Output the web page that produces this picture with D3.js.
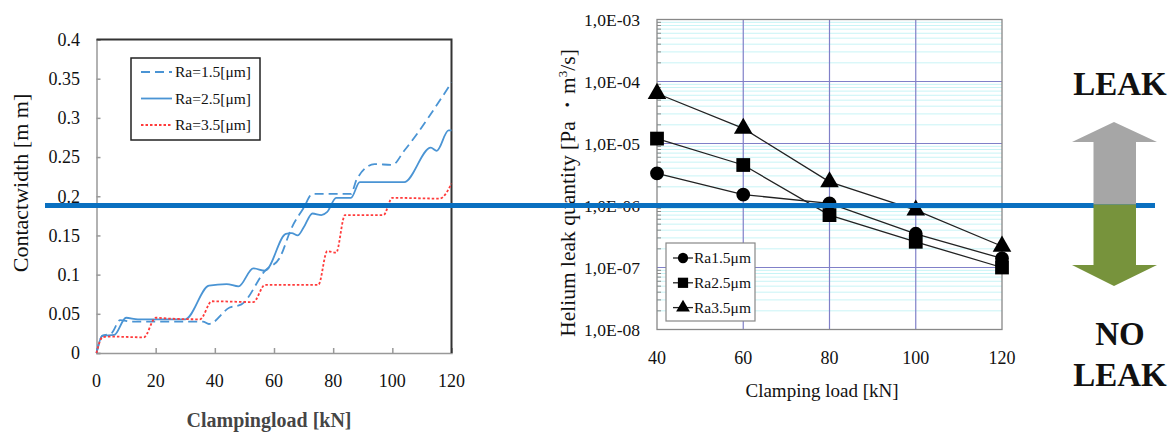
<!DOCTYPE html>
<html><head><meta charset="utf-8">
<script src="https://cdn.jsdelivr.net/npm/d3@7"></script>
<style>
body{margin:0;background:#fff}
text{font-family:"Liberation Serif","Times New Roman",serif;fill:#111}
</style>
</head><body>
<svg id="chart" width="1173" height="434"></svg>
<script>
// ---- left chart: contact width vs clamping load
const loadTicks = [0, 20, 40, 60, 80, 100, 120];
const widthTicks = [0, 0.05, 0.1, 0.15, 0.2, 0.25, 0.3, 0.35, 0.4];
const widthNames = ["Ra=1.5[μm]", "Ra=2.5[μm]", "Ra=3.5[μm]"];
const width15 = [[0,0],[2,0.022],[5,0.025],[8,0.042],[12,0.040],[36,0.040],[38,0.037],[45,0.058],[49,0.062],[57,0.105],[62,0.122],[66,0.16],[70,0.185],[73,0.203],[86,0.203],[88,0.222],[94,0.241],[100,0.240],[104,0.258],[120,0.345]];
const width25 = [[0,0],[2,0.022],[6,0.023],[10,0.045],[14,0.043],[30,0.043],[38,0.086],[44,0.088],[48,0.085],[53,0.108],[57,0.105],[64,0.152],[66,0.153],[68,0.150],[70,0.160],[73,0.178],[76,0.176],[78,0.180],[81,0.198],[86,0.198],[89,0.218],[104,0.218],[113,0.262],[115,0.258],[119,0.284],[120,0.284]];
const width35 = [[0,0],[2,0.020],[4,0.021],[16,0.020],[20,0.045],[24,0.044],[35,0.043],[39,0.066],[53,0.065],[57,0.087],[75,0.087],[78,0.130],[81,0.128],[84,0.176],[97,0.176],[100,0.198],[116,0.197],[120,0.216]];

// ---- right chart: helium leak vs clamping load
const leakLoads = [40, 60, 80, 100, 120];
const leakNames = ["Ra1.5μm", "Ra2.5μm", "Ra3.5μm"];
const leak15 = [3.3e-6, 1.5e-6, 1.08e-6, 3.5e-7, 1.4e-7];
const leak25 = [1.2e-5, 4.5e-6, 7.0e-7, 2.6e-7, 1.0e-7];
const leak35 = [6.4e-5, 1.75e-5, 2.4e-6, 8.4e-7, 2.2e-7];
const leakTicks = [1e-3, 1e-4, 1e-5, 1e-6, 1e-7, 1e-8];
const leakTickLabels = ["1,0E-03", "1,0E-04", "1,0E-05", "1,0E-06", "1,0E-07", "1,0E-08"];
const leakThreshold = 1e-6;

const svg = d3.select("#chart");

// ================= left chart
const xL = d3.scaleLinear().domain([0, 120]).range([96.5, 451.5]);
const yL = d3.scaleLinear().domain([0, 0.4]).range([353, 39.5]);

const gL = svg.append("g");

// axes (ticks inward)
gL.append("g")
  .attr("transform", "translate(" + xL(0) + ",0)")
  .call(d3.axisRight(yL).tickValues(widthTicks).tickSize(4).tickFormat(""))
  .call(g => g.selectAll("line,path").attr("stroke", "#999").attr("stroke-width", 1.5));
gL.append("g")
  .attr("transform", "translate(0," + yL(0) + ")")
  .call(d3.axisTop(xL).tickValues(loadTicks).tickSize(5).tickFormat(""))
  .call(g => g.selectAll("line,path").attr("stroke", "#999").attr("stroke-width", 1.5));

// top & right frame
gL.append("path")
  .attr("d", "M" + xL(0) + "," + yL(0.4) + "H" + xL(120) + "V" + yL(0))
  .attr("fill", "none").attr("stroke", "#333").attr("stroke-width", 2);

gL.selectAll(".ytl").data(widthTicks).enter().append("text")
  .attr("x", 80).attr("y", d => yL(d)).attr("dy", "0.35em")
  .attr("text-anchor", "end").attr("font-size", 18)
  .text(d => d === 0 ? "0" : d3.format("")(+d.toFixed(2)));
gL.selectAll(".xtl").data(loadTicks).enter().append("text")
  .attr("x", d => xL(d)).attr("y", 381).attr("dy", "0.35em")
  .attr("text-anchor", "middle").attr("font-size", 18)
  .text(d => d);

gL.append("text").attr("x", 269).attr("y", 420).attr("dy", "0.35em")
  .attr("text-anchor", "middle").attr("font-size", 20).attr("font-weight", "bold")
  .attr("fill-opacity", 0.8)
  .text("Clampingload [kN]");
gL.append("text").attr("transform", "translate(20,183) rotate(-90)")
  .attr("dy", "0.35em").attr("text-anchor", "middle").attr("font-size", 22)
  .text("Contactwidth [m m]");

const widthLine = d3.line().x(d => xL(d[0])).y(d => yL(d[1])).curve(d3.curveMonotoneX);
const widthStyles = [
  {data: width15, color: "#4a94d4", dash: "9,5"},
  {data: width25, color: "#4a94d4", dash: null},
  {data: width35, color: "#ff3b3b", dash: "2.5,2"}
];
gL.selectAll(".wline").data(widthStyles).enter().append("path")
  .attr("d", d => widthLine(d.data))
  .attr("fill", "none").attr("stroke", d => d.color)
  .attr("stroke-width", 1.8).attr("stroke-dasharray", d => d.dash);

// legend
const legL = gL.append("g");
legL.append("rect").attr("x", 131).attr("y", 58).attr("width", 129).attr("height", 82)
  .attr("fill", "#fff").attr("stroke", "#222").attr("stroke-width", 1.5);
widthStyles.forEach((s, i) => {
  const y = 72 + i * 26.5;
  legL.append("line").attr("x1", 141).attr("x2", 172).attr("y1", y).attr("y2", y)
    .attr("stroke", s.color).attr("stroke-width", 1.8).attr("stroke-dasharray", s.dash);
  legL.append("text").attr("x", 175).attr("y", y).attr("dy", "0.35em")
    .attr("font-size", 15.5).text(widthNames[i]);
});

// ================= right chart
const xR = d3.scaleLinear().domain([40, 120]).range([657, 1002]);
const yR = d3.scaleLog().domain([1e-8, 1e-3]).range([329.5, 19.5]);

const gR = svg.append("g");
gR.append("rect").attr("x", xR(40)).attr("y", yR(1e-3))
  .attr("width", xR(120) - xR(40)).attr("height", yR(1e-8) - yR(1e-3)).attr("fill", "#fff");

// minor grid
const minorVals = [];
for (let e = -8; e < -3; e++) for (let m = 2; m <= 9; m++) minorVals.push(m * Math.pow(10, e));
gR.selectAll(".minor").data(minorVals).enter().append("line")
  .attr("x1", xR(40)).attr("x2", xR(120)).attr("y1", d => yR(d)).attr("y2", d => yR(d))
  .attr("stroke", "#c8f4f6").attr("stroke-width", 1);
// major grid
gR.selectAll(".hmaj").data(leakTicks.slice(1, -1)).enter().append("line")
  .attr("x1", xR(40)).attr("x2", xR(120)).attr("y1", d => yR(d)).attr("y2", d => yR(d))
  .attr("stroke", "#8080c8").attr("stroke-width", 1.2);
gR.selectAll(".vmaj").data(leakLoads.slice(1, -1)).enter().append("line")
  .attr("y1", yR(1e-3)).attr("y2", yR(1e-8)).attr("x1", d => xR(d)).attr("x2", d => xR(d))
  .attr("stroke", "#8080c8").attr("stroke-width", 1.2);
// minor ticks on y axis
gR.selectAll(".ytick").data(minorVals).enter().append("line")
  .attr("x1", xR(40)).attr("x2", xR(40) + 4).attr("y1", d => yR(d)).attr("y2", d => yR(d))
  .attr("stroke", "#888").attr("stroke-width", 1);
gR.append("rect").attr("x", xR(40)).attr("y", yR(1e-3))
  .attr("width", xR(120) - xR(40)).attr("height", yR(1e-8) - yR(1e-3))
  .attr("fill", "none").attr("stroke", "#888").attr("stroke-width", 1.3);

gR.selectAll(".ytl").data(leakTicks).enter().append("text")
  .attr("x", 640).attr("y", d => yR(d)).attr("dy", "0.35em")
  .attr("text-anchor", "end").attr("font-size", 17.5)
  .text((d, i) => leakTickLabels[i]);
gR.selectAll(".xtl").data(leakLoads).enter().append("text")
  .attr("x", d => xR(d)).attr("y", 358).attr("dy", "0.35em")
  .attr("text-anchor", "middle").attr("font-size", 18).text(d => d);
gR.append("text").attr("x", 822).attr("y", 390).attr("dy", "0.35em")
  .attr("text-anchor", "middle").attr("font-size", 19).text("Clamping load [kN]");
const yt = gR.append("text").attr("transform", "translate(567,193) rotate(-90)")
  .attr("dy", "0.35em").attr("text-anchor", "middle").attr("font-size", 21.5);
yt.append("tspan").text("Helium leak quantity [Pa \u30FBm");
yt.append("tspan").attr("font-size", 13).attr("dy", "-0.6em").text("3");
yt.append("tspan").attr("dy", "0.38em").text("/s]");

const leakSeries = [
  {vals: leak15, shape: d3.symbolCircle, size: 150},
  {vals: leak25, shape: d3.symbolSquare, size: 190},
  {vals: leak35, shape: d3.symbolTriangle, size: 150}
];
const leakLine = d3.line().x((d, i) => xR(leakLoads[i])).y(d => yR(d));
leakSeries.forEach(s => {
  gR.append("path").attr("d", leakLine(s.vals)).attr("fill", "none")
    .attr("stroke", "#222").attr("stroke-width", 1.3);
  gR.selectAll(null).data(s.vals).enter().append("path")
    .attr("transform", (d, i) => "translate(" + xR(leakLoads[i]) + "," + yR(d) + ")")
    .attr("d", d3.symbol().type(s.shape).size(s.size)).attr("fill", "#000");
});

// legend
const legR = gR.append("g");
legR.append("rect").attr("x", 666).attr("y", 243).attr("width", 89).attr("height", 78)
  .attr("fill", "#fff").attr("stroke", "#888").attr("stroke-width", 1.2);
leakSeries.forEach((s, i) => {
  const y = 258 + i * 24.8;
  legR.append("line").attr("x1", 673).attr("x2", 693).attr("y1", y).attr("y2", y)
    .attr("stroke", "#222").attr("stroke-width", 1.3);
  legR.append("path").attr("transform", "translate(683," + y + ")")
    .attr("d", d3.symbol().type(s.shape).size(s.size * 0.55)).attr("fill", "#000");
  legR.append("text").attr("x", 694).attr("y", y).attr("dy", "0.35em")
    .attr("font-size", 15.5).text(leakNames[i]);
});

// ================= threshold line and leak arrow
const yThr = yR(leakThreshold);
svg.append("line").attr("x1", 45).attr("x2", 1155).attr("y1", yThr).attr("y2", yThr)
  .attr("stroke", "#0a70c0").attr("stroke-width", 5);

const arrow = svg.append("g");
const ax = 1114, shaftL = 1093.5, shaftR = 1136, headL = 1072, headR = 1157;
arrow.append("path")
  .attr("d", "M" + ax + ",122L" + headR + ",142H" + shaftR + "V" + (yThr - 1) + "H" + shaftL + "V142H" + headL + "Z")
  .attr("fill", "#a6a6a6");
arrow.append("path")
  .attr("d", "M" + shaftL + "," + (yThr - 1) + "H" + shaftR + "V265H" + headR + "L" + ax + ",286L" + headL + ",265H" + shaftL + "Z")
  .attr("fill", "#77933c");
const bigText = [["LEAK", 83], ["NO", 333], ["LEAK", 374]];
arrow.selectAll("text").data(bigText).enter().append("text")
  .attr("x", 1120).attr("y", d => d[1]).attr("dy", "0.35em")
  .attr("text-anchor", "middle").attr("font-size", 33).attr("font-weight", "bold")
  .text(d => d[0]);
</script>
</body></html>
